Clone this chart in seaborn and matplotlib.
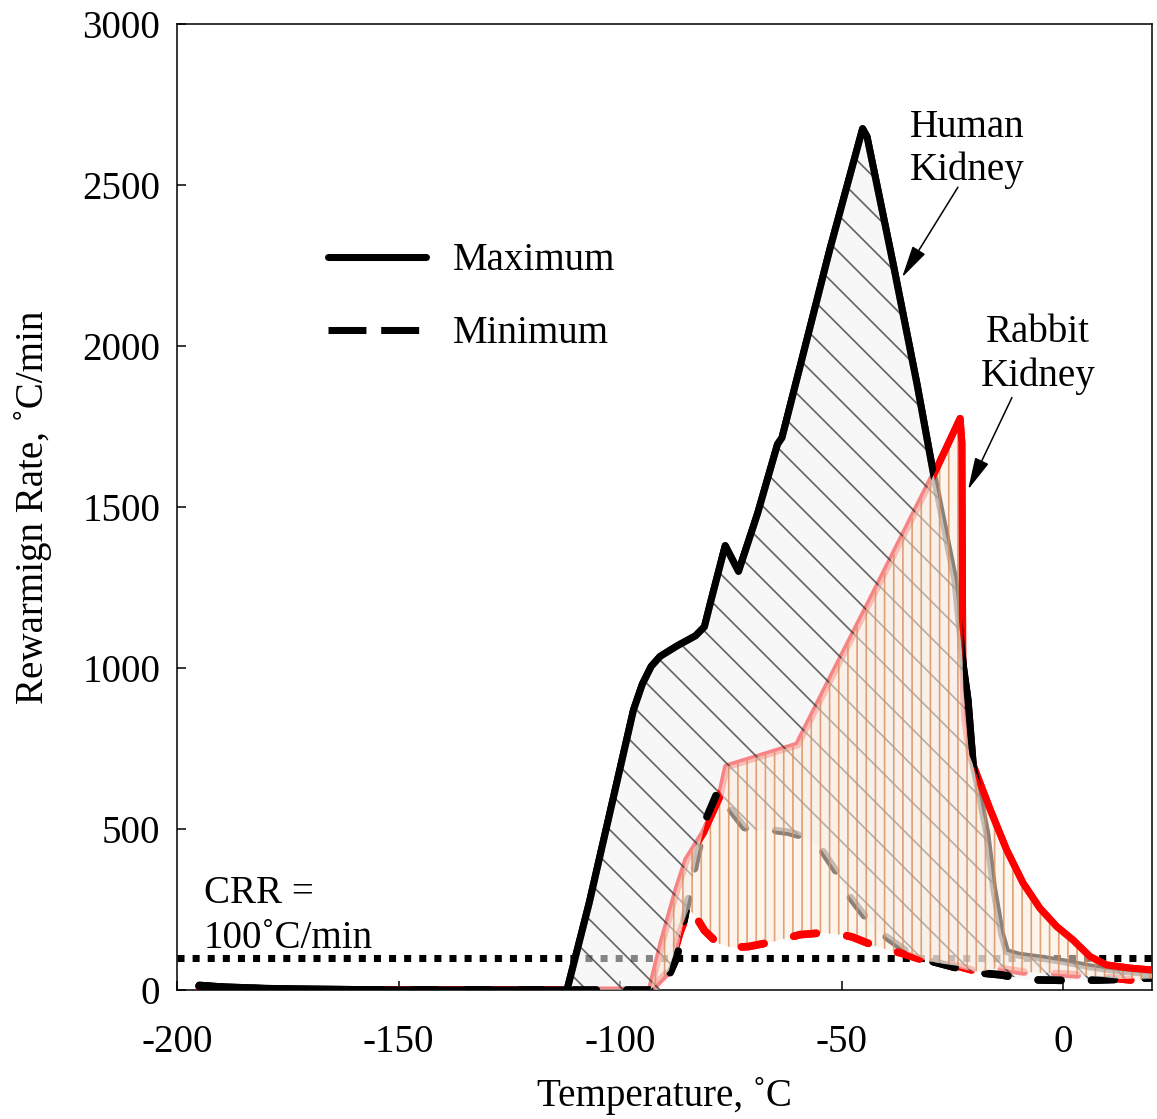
import numpy as np
import matplotlib
matplotlib.use("Agg")
import matplotlib.pyplot as plt
from matplotlib.lines import Line2D
from matplotlib.path import Path
import seaborn as sns

# ---------------- data ----------------
human_max_x = [-195, -190, -180, -170, -150, -130, -112, -107, -103, -99, -97, -95, -93, -91,
               -87, -83, -81, -79.5, -76.3, -73.3, -69, -64.5, -63.5, -52.7, -45.3, -44.3,
               -38.3, -33, -29.35, -24.5, -22.5, -21.5, -20.3, -19.6, -17.3, -15.8, -14,
               -12.8, -10, -5, 0, 6, 12, 20]
human_max_y = [15, 10, 5, 3, 0, 0, 0, 270, 510, 750, 870, 950, 1005, 1036,
               1070, 1100, 1128, 1210, 1380, 1300, 1480, 1695, 1715, 2300, 2675, 2650,
               2248, 1880, 1606, 1274, 1000, 900, 694, 650, 488, 321, 177,
               119, 108, 99, 88, 72, 60, 50]

human_min_x = [-195, -185, -170, -91, -89.5, -87.2, -85, -82.7, -80.4, -77.8, -75.1, -72,
               -69.9, -66, -62, -58.6, -54.8, -51, -48.8, -44.2, -41.2, -35.2, -30.7,
               -25, -20, -14, -8, 0, 5, 12, 20]
human_min_y = [12, 5, 0, 0, 30, 103, 258, 413, 538, 622, 560, 505,
               497, 497, 490, 476, 441, 363, 301, 218, 177, 118, 93,
               72, 55, 47, 32, 30, 30, 33, 38]

rabbit_max_x = [-195, -190, -180, -93.2, -90.5, -87.2, -85, -81.2, -77.5, -76, -60, -51.8,
                -43.4, -29.4, -23.3, -22.9, -22.7, -22.3, -21.2, -19.5, -16.5, -12.8,
                -9.1, -5.3, -1.5, 2.2, 6, 9.7, 15, 20]
rabbit_max_y = [8, 3, 0, 0, 150, 311, 404, 488, 600, 693, 761, 985,
                1212, 1596, 1775, 1700, 1000, 850, 730, 668, 560, 435,
                332, 254, 197, 155, 104, 78, 68, 62]

rabbit_min_x = [-93.2, -89, -86.5, -84.5, -83, -81, -78, -75, -71, -65.5, -59.4, -55,
                -50, -47.7, -42, -36.7, -30.5, -24, -19, -14.7, -9, -3, 3, 9, 16, 20]
rabbit_min_y = [0, 60, 180, 250, 230, 185, 145, 132, 135, 150, 172, 177,
                172, 165, 134, 115, 88, 75, 56, 68, 56, 52, 47, 40, 30, 35]

crr_value = 100
x_ticks = [-200, -150, -100, -50, 0]
y_ticks = [0, 500, 1000, 1500, 2000, 2500, 3000]
x_label = "Temperature, \u02daC"
y_label = "Rewarmign Rate, \u02daC/min"
legend_labels = ["Maximum", "Minimum"]

# ---------------- style ----------------
sns.set_style("ticks")
plt.rcParams["font.family"] = ["Liberation Serif", "DejaVu Serif"]
plt.rcParams["axes.unicode_minus"] = False
plt.rcParams["hatch.linewidth"] = 1.1
for k in ["text.color", "axes.labelcolor", "xtick.color", "ytick.color", "axes.edgecolor"]:
    plt.rcParams[k] = "black"

DPI = 110
FS = 25.5
fig = plt.figure(figsize=(1157 / DPI, 1119 / DPI), dpi=DPI)
ax = fig.add_axes([177 / 1157, 1 - 990 / 1119, (1152 - 177) / 1157, (990 - 24) / 1119])

LW = 4.6
DLW = 5.0
DASH = (0, (3, 4))


def draw(x, y, color, dashed, z):
    kw = dict(color=color, sort=False, estimator=None, zorder=z)
    if dashed:
        kw.update(linewidth=DLW, linestyle=DASH, dash_capstyle="round")
    else:
        kw.update(linewidth=LW, solid_joinstyle="round", solid_capstyle="round")
    n = len(ax.lines)
    sns.lineplot(x=x, y=y, ax=ax, **kw)
    return ax.lines[n]


# red first, black on top (as in the reference)
series = [
    (rabbit_max_x, rabbit_max_y, "#ff0000", False),
    (rabbit_min_x, rabbit_min_y, "#ff0000", True),
    (human_max_x, human_max_y, "black", False),
    (human_min_x, human_min_y, "black", True),
]
for sx, sy, c, d in series:
    draw(sx, sy, c, d, 2)

# CRR dotted line
ax.axhline(crr_value, color="black", linewidth=4.6, linestyle=(0, (1, 1.15)), zorder=1.5)

# filled regions polygons
hmx = np.array(human_max_x, float); hmy = np.array(human_max_y, float)
hnx = np.array(human_min_x, float); hny = np.array(human_min_y, float)
start_h = -112
sel = hmx >= start_h
seln = hnx >= start_h
poly_hx = np.concatenate([hmx[sel], hnx[seln][::-1], [start_h]])
poly_hy = np.concatenate([hmy[sel], hny[seln][::-1], [0]])

rmx = np.array(rabbit_max_x, float); rmy = np.array(rabbit_max_y, float)
rnx = np.array(rabbit_min_x, float); rny = np.array(rabbit_min_y, float)
selr = rmx >= rnx[0]
poly_rx = np.concatenate([rmx[selr], rnx[::-1]])
poly_ry = np.concatenate([rmy[selr], rny[::-1]])

ax.fill(poly_hx, poly_hy, facecolor=(0.95, 0.95, 0.95, 0.55),
        edgecolor=(0.2, 0.2, 0.2, 0.75), hatch="\\", linewidth=0, zorder=3)
ax.fill(poly_rx, poly_ry, facecolor=(0.99, 0.93, 0.87, 0.55),
        edgecolor=(0.85, 0.55, 0.35, 0.8), hatch="||", linewidth=0, zorder=3.1)


def outside(px, py):
    pts = list(zip(px, py))
    area = 0.5 * np.sum(np.array(px) * np.roll(py, -1) - np.roll(px, -1) * np.array(py))
    if area > 0:
        pts = pts[::-1]
    rect = [(-400, -2000), (200, -2000), (200, 6000), (-400, 6000), (-400, -2000)]
    verts = rect + pts + [pts[0]]
    codes = ([Path.MOVETO] + [Path.LINETO] * 3 + [Path.CLOSEPOLY] +
             [Path.MOVETO] + [Path.LINETO] * (len(pts) - 1) + [Path.CLOSEPOLY])
    return Path(verts, codes)


out_rabbit = outside(poly_rx, poly_ry)
out_human = outside(poly_hx, poly_hy)

# redraw lines on top where they are not covered by the other kidney's region
for sx, sy, c, d in series:
    ln = draw(sx, sy, c, d, 4)
    ln.set_clip_path(out_rabbit if c == "black" else out_human, ax.transData)

# axes
ax.set_xlim(-200, 20)
ax.set_ylim(0, 3000)
ax.set_xticks(x_ticks)
ax.set_yticks(y_ticks)
ax.tick_params(direction="in", length=6, width=1.0, labelsize=FS, color="black")
ax.tick_params(axis="x", pad=22)
ax.tick_params(axis="y", pad=11)
for s in ax.spines.values():
    s.set_linewidth(1.0)
    s.set_color("black")
    s.set_visible(True)
ax.set_xlabel(x_label, fontsize=FS, labelpad=11)
ax.set_ylabel(y_label, fontsize=FS, labelpad=20)

# annotations
ax.text(-194, 299, "CRR =", fontsize=FS, va="center", ha="left", zorder=5)
ax.text(-194, 159, "100\u02daC/min", fontsize=FS, va="center", ha="left", zorder=5)
ax.text(-21.7, 2612, "Human\nKidney", fontsize=FS, va="center", ha="center",
        linespacing=1.22, zorder=5)
ax.text(-5.7, 1973, "Rabbit\nKidney", fontsize=FS, va="center", ha="center",
        linespacing=1.22, zorder=5)
arrow = dict(arrowstyle="-|>,head_length=0.65,head_width=0.15", color="black",
             lw=1.0, mutation_scale=28, shrinkA=0, shrinkB=0)
ax.annotate("", xy=(-36.4, 2213), xytext=(-23.8, 2493), arrowprops=arrow, zorder=5)
ax.annotate("", xy=(-21.5, 1554), xytext=(-11.6, 1840), arrowprops=arrow, zorder=5)

# legend
handles = [Line2D([], [], color="black", lw=LW),
           Line2D([], [], color="black", lw=LW, linestyle=(0, (5.4, 2.1)))]
ax.legend(handles, legend_labels, loc="upper left", bbox_to_anchor=(0.155, 0.774),
          frameon=False, fontsize=FS, handlelength=2.5, handletextpad=0.7,
          labelspacing=0.92, borderpad=0, borderaxespad=0)

fig.savefig("out.png", dpi=DPI)
